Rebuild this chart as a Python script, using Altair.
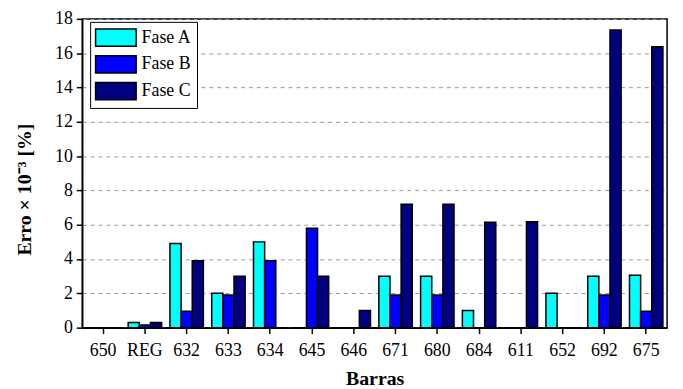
import altair as alt
import pandas as pd

barras = ["650", "REG", "632", "633", "634", "645", "646", "671", "680", "684", "611", "652", "692", "675"]
fase_a = [0, 0.3, 4.9, 2.0, 5.0, 0, 0, 3.0, 3.0, 1.0, 0, 2.0, 3.0, 3.05]
fase_b = [0, 0.15, 0.95, 1.9, 3.9, 5.8, 0, 1.9, 1.9, 0, 0, 0, 1.9, 0.95]
fase_c = [0, 0.3, 3.9, 3.0, 0, 3.0, 1.0, 7.2, 7.2, 6.15, 6.18, 0, 17.35, 16.37]
fases = ["Fase A", "Fase B", "Fase C"]
cores = ["#00FFFF", "#0000FF", "#000080"]

rows = []
for i, b in enumerate(barras):
    for f, vals in zip(fases, [fase_a, fase_b, fase_c]):
        rows.append({"Barra": b, "Fase": f, "Erro": vals[i]})
df = pd.DataFrame(rows)

FONT = "Liberation Serif"

chart = alt.Chart(df).mark_bar(stroke="black", strokeWidth=1.5).encode(
    x=alt.X("Barra:N", sort=barras,
            scale=alt.Scale(paddingInner=0.2, paddingOuter=0.1),
            axis=alt.Axis(title="Barras", labelAngle=0, tickSize=6, tickColor="black",
                          tickWidth=1.5, domainColor="black", domainWidth=1.5,
                          labelPadding=8, titleFontSize=20,
                          titleFontWeight="bold", titleColor="black", titlePadding=9,
                          grid=False)),
    xOffset=alt.XOffset("Fase:N", sort=fases, scale=alt.Scale(paddingInner=0, paddingOuter=0)),
    y=alt.Y("Erro:Q", scale=alt.Scale(domain=[0, 18], nice=False),
            axis=alt.Axis(title="Erro × 10⁻³ [%]", values=list(range(0, 19, 2)),
                          tickSize=6, tickColor="black", tickWidth=1.5,
                          domainColor="black", domainWidth=1.5,
                          labelPadding=4, titleFontSize=20,
                          titleFontWeight="bold", titleColor="black",
                          titleX=-48, titleY=172, titleBaseline="bottom",
                          grid=True, gridColor="#999999", gridDash=[4, 4], gridWidth=1)),
    color=alt.Color("Fase:N", sort=fases,
                    scale=alt.Scale(domain=fases, range=cores),
                    legend=alt.Legend(title=None, orient="none", legendX=8, legendY=3,
                                      symbolType="M-2,-0.85H2V0.85H-2Z", symbolSize=420,
                                      symbolOffset=10,
                                      symbolStrokeColor="black", symbolStrokeWidth=1.5,
                                      labelFontSize=18, labelColor="black",
                                      labelOffset=15, rowPadding=3, padding=5,
                                      strokeColor="black", fillColor="white")),
).properties(
    width=591, height=312,
    autosize=alt.AutoSizeParams(type="none"),
    padding={"left": 75, "top": 9, "right": 8, "bottom": 60},
).configure(
    font=FONT
).configure_axis(
    labelFont=FONT, labelFontSize=18, labelColor="black", titleFont=FONT
).configure_legend(
    labelFont=FONT
).configure_view(
    stroke="black", strokeWidth=1.5
)

chart.save("out.html", embed_options={"renderer": "svg", "actions": False})
